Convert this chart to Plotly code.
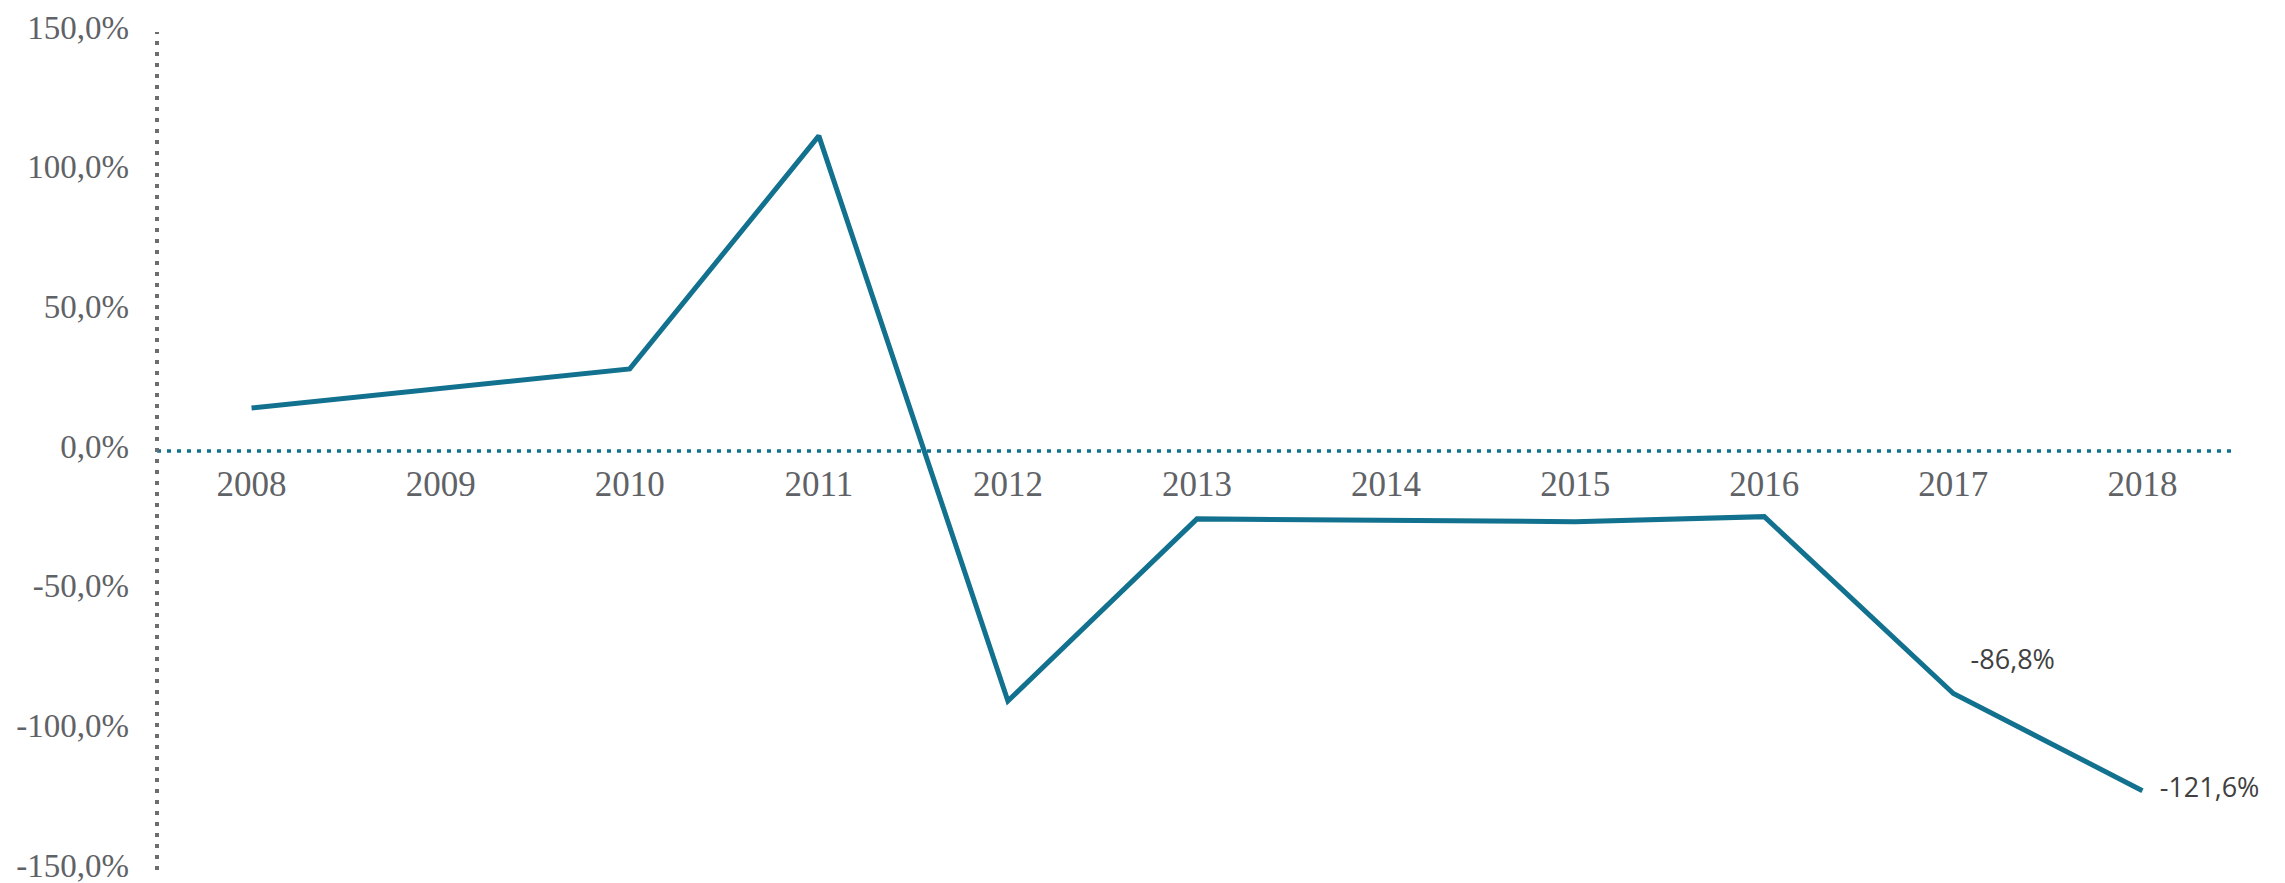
import plotly.graph_objects as go

years = ["2008", "2009", "2010", "2011", "2012", "2013", "2014", "2015", "2016", "2017", "2018"]
values = [15.4, None, 29.4, 112.8, -89.5, -24.3, -25.0, -25.3, -23.5, -86.8, -121.6]
labelled_years = ["2017", "2018"]
label_positions = ["top right", "middle right"]
y_tick_vals = [150, 100, 50, 0, -50, -100, -150]
y_tick_text = ["150,0%", "100,0%", "50,0%", "0,0%", "-50,0%", "-100,0%", "-150,0%"]

LINE = "#12718e"
GREY = "#5f6266"

fig = go.Figure()
fig.add_trace(go.Scatter(
    x=years, y=values, mode="lines", connectgaps=True,
    line=dict(color=LINE, width=5), hoverinfo="skip", showlegend=False,
))

lab_vals = [values[years.index(y)] for y in labelled_years]
lab_text = [f"{v:.1f}%".replace(".", ",") for v in lab_vals]
fig.add_trace(go.Scatter(
    x=labelled_years, y=lab_vals, mode="markers+text", text=lab_text,
    textposition=label_positions, cliponaxis=False,
    marker=dict(size=26, opacity=0, color=LINE),
    textfont=dict(family="Open Sans", size=27, color="#404040"),
    hoverinfo="skip", showlegend=False,
))

# zero line (dotted teal)
fig.add_shape(type="line", xref="paper", yref="y", x0=0, x1=1, y0=0, y1=0,
              line=dict(color=LINE, width=3.5, dash="4px,6px"), layer="below")
# vertical axis line (dotted grey)
fig.add_shape(type="line", xref="paper", yref="paper", x0=0, x1=0, y0=0, y1=1,
              line=dict(color="#6b6d70", width=4, dash="4px,7px"))

fig.update_layout(
    width=2285, height=883,
    margin=dict(l=157, r=48, t=32, b=13, autoexpand=False),
    paper_bgcolor="white", plot_bgcolor="white",
    xaxis=dict(type="category", range=[-0.5, 10.5], showgrid=False, showline=False,
               zeroline=False, anchor="free", position=0.5, ticks="",
               ticklabelstandoff=9, automargin=False,
               tickfont=dict(family="Liberation Serif", size=35, color=GREY)),
    yaxis=dict(range=[-150, 150], showgrid=False, showline=False, zeroline=False,
               tickvals=y_tick_vals, ticktext=y_tick_text, ticks="",
               ticklabelstandoff=27, ticklabelshift=-5, ticklabeloverflow="allow",
               automargin=False,
               tickfont=dict(family="Liberation Serif", size=33, color=GREY)),
)

fig.write_html("out.html", config={"displayModeBar": False},
               post_script="document.body.style.margin='0px';document.body.style.overflow='hidden';")
